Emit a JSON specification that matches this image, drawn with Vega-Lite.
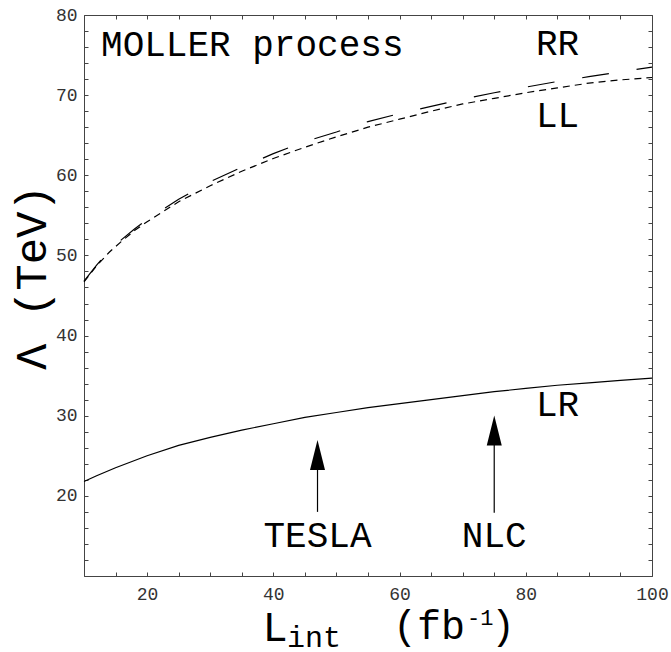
{
  "$schema": "https://vega.github.io/schema/vega-lite/v6.json",
  "width": 568,
  "height": 561,
  "autosize": "none",
  "padding": {"left": 84, "top": 15, "right": 19, "bottom": 76},
  "background": "white",
  "config": {
    "view": {"stroke": "#444", "strokeWidth": 1},
    "axis": {
      "domain": false,
      "labelFont": "Liberation Mono",
      "labelFontSize": 18,
      "labelColor": "#333",
      "titleFont": "Liberation Mono",
      "titleFontWeight": "normal",
      "titleColor": "black"
    }
  },
  "datasets": {
    "curves": [
      {"series": "LR", "L": 10, "Lambda": 21.8},
      {"series": "LR", "L": 12, "Lambda": 22.5},
      {"series": "LR", "L": 15, "Lambda": 23.5},
      {"series": "LR", "L": 20, "Lambda": 25.0},
      {"series": "LR", "L": 25, "Lambda": 26.3},
      {"series": "LR", "L": 30, "Lambda": 27.3},
      {"series": "LR", "L": 35, "Lambda": 28.2},
      {"series": "LR", "L": 40, "Lambda": 29.0},
      {"series": "LR", "L": 45, "Lambda": 29.8},
      {"series": "LR", "L": 50, "Lambda": 30.4},
      {"series": "LR", "L": 55, "Lambda": 31.0},
      {"series": "LR", "L": 60, "Lambda": 31.5},
      {"series": "LR", "L": 65, "Lambda": 32.0},
      {"series": "LR", "L": 70, "Lambda": 32.5},
      {"series": "LR", "L": 75, "Lambda": 33.0},
      {"series": "LR", "L": 80, "Lambda": 33.4},
      {"series": "LR", "L": 85, "Lambda": 33.8},
      {"series": "LR", "L": 90, "Lambda": 34.1},
      {"series": "LR", "L": 95, "Lambda": 34.4},
      {"series": "LR", "L": 100, "Lambda": 34.7},
      {"series": "LL", "L": 10, "Lambda": 46.7},
      {"series": "LL", "L": 12, "Lambda": 48.7},
      {"series": "LL", "L": 14, "Lambda": 50.4},
      {"series": "LL", "L": 16, "Lambda": 51.8},
      {"series": "LL", "L": 18, "Lambda": 53.1},
      {"series": "LL", "L": 20, "Lambda": 54.2},
      {"series": "LL", "L": 25, "Lambda": 56.7},
      {"series": "LL", "L": 30, "Lambda": 58.7},
      {"series": "LL", "L": 35, "Lambda": 60.5},
      {"series": "LL", "L": 40, "Lambda": 62.1},
      {"series": "LL", "L": 45, "Lambda": 63.5},
      {"series": "LL", "L": 50, "Lambda": 64.8},
      {"series": "LL", "L": 55, "Lambda": 66.0},
      {"series": "LL", "L": 60, "Lambda": 67.0},
      {"series": "LL", "L": 65, "Lambda": 68.0},
      {"series": "LL", "L": 70, "Lambda": 68.9},
      {"series": "LL", "L": 75, "Lambda": 69.6},
      {"series": "LL", "L": 80, "Lambda": 70.3},
      {"series": "LL", "L": 85, "Lambda": 70.9},
      {"series": "LL", "L": 90, "Lambda": 71.5},
      {"series": "LL", "L": 95, "Lambda": 71.9},
      {"series": "LL", "L": 100, "Lambda": 72.2},
      {"series": "RR", "L": 10, "Lambda": 46.8},
      {"series": "RR", "L": 12, "Lambda": 48.8},
      {"series": "RR", "L": 14, "Lambda": 50.6},
      {"series": "RR", "L": 16, "Lambda": 52.0},
      {"series": "RR", "L": 18, "Lambda": 53.3},
      {"series": "RR", "L": 20, "Lambda": 54.5},
      {"series": "RR", "L": 25, "Lambda": 57.0},
      {"series": "RR", "L": 30, "Lambda": 59.2},
      {"series": "RR", "L": 35, "Lambda": 61.0},
      {"series": "RR", "L": 40, "Lambda": 62.7},
      {"series": "RR", "L": 45, "Lambda": 64.2},
      {"series": "RR", "L": 50, "Lambda": 65.4},
      {"series": "RR", "L": 55, "Lambda": 66.7},
      {"series": "RR", "L": 60, "Lambda": 67.7},
      {"series": "RR", "L": 65, "Lambda": 68.6},
      {"series": "RR", "L": 70, "Lambda": 69.5},
      {"series": "RR", "L": 75, "Lambda": 70.3},
      {"series": "RR", "L": 80, "Lambda": 71.0},
      {"series": "RR", "L": 85, "Lambda": 71.7},
      {"series": "RR", "L": 90, "Lambda": 72.3},
      {"series": "RR", "L": 95, "Lambda": 72.9},
      {"series": "RR", "L": 100, "Lambda": 73.5}
    ],
    "leftLabels": [
      {"text": "MOLLER process", "L": 12.7, "Lambda": 74.9},
      {"text": "RR", "L": 81.6, "Lambda": 75.0},
      {"text": "LL", "L": 81.6, "Lambda": 66.0},
      {"text": "LR", "L": 81.6, "Lambda": 30.0}
    ],
    "centerLabels": [
      {"text": "TESLA", "L": 47, "Lambda": 13.6},
      {"text": "NLC", "L": 75, "Lambda": 13.6}
    ],
    "arrows": [
      {"name": "TESLA", "L": 47, "Lambda": 18.0, "shaftTop": 23.5, "head": 25.1},
      {"name": "NLC", "L": 75, "Lambda": 17.9, "shaftTop": 26.5, "head": 28.15}
    ],
    "titleSub": [
      {"text": "int", "L": 42.17, "Lambda": 1.14}
    ],
    "titleMain": [
      {"text": "(fb", "L": 58.96, "Lambda": 2.14},
      {"text": ")", "L": 74.49, "Lambda": 2.14}
    ],
    "titleSup": [
      {"text": "-1", "L": 70.69, "Lambda": 3.89}
    ]
  },
  "encoding": {
    "x": {
      "field": "L", "type": "quantitative",
      "scale": {"domain": [10, 100], "nice": false, "zero": false},
      "axis": {
        "orient": "bottom",
        "values": [10,15,20,25,30,35,40,45,50,55,60,65,70,75,80,85,90,95,100],
        "labelExpr": "datum.value % 20 === 0 ? datum.label : ''",
        "ticks": false,
        "tickSize": 0,
        "labelPadding": 9,
        "labelFlush": false,
        "grid": true,
        "gridColor": "#444",
        "gridWidth": 1,
        "gridOpacity": 1,
        "gridDash": [4, 553, 4, 1000],
        "title": "L",
        "titleFontSize": 42,
        "titleAnchor": null,
        "titleAlign": "left",
        "titleBaseline": "alphabetic",
        "titleX": 178,
        "titleY": 64
      }
    },
    "y": {
      "field": "Lambda", "type": "quantitative",
      "scale": {"domain": [10, 80], "nice": false, "zero": false},
      "axis": {
        "orient": "left",
        "values": [10,12,14,16,18,20,22,24,26,28,30,32,34,36,38,40,42,44,46,48,50,52,54,56,58,60,62,64,66,68,70,72,74,76,78,80],
        "labelExpr": "datum.value % 10 === 0 && datum.value > 10 ? datum.label : ''",
        "ticks": false,
        "tickSize": 0,
        "labelPadding": 7,
        "labelFlush": false,
        "grid": true,
        "gridColor": "#444",
        "gridWidth": 1,
        "gridOpacity": 1,
        "gridDash": [4, 560, 4, 1000],
        "title": "Λ (TeV)",
        "titleFontSize": 44,
        "titleAnchor": null,
        "titleAngle": -90,
        "titleAlign": "center",
        "titleBaseline": "alphabetic",
        "titleX": -39,
        "titleY": 262
      }
    }
  },
  "layer": [
    {
      "data": {"name": "curves"},
      "transform": [{"filter": "datum.series === 'LR'"}],
      "mark": {"type": "line", "color": "black", "strokeWidth": 1.2}
    },
    {
      "data": {"name": "curves"},
      "transform": [{"filter": "datum.series === 'LL'"}],
      "mark": {"type": "line", "color": "black", "strokeWidth": 1.2, "strokeDash": [7, 5]}
    },
    {
      "data": {"name": "curves"},
      "transform": [{"filter": "datum.series === 'RR'"}],
      "mark": {"type": "line", "color": "black", "strokeWidth": 1.2, "strokeDash": [27, 28]}
    },
    {
      "data": {"name": "arrows"},
      "mark": {"type": "rule", "color": "black", "strokeWidth": 1.2},
      "encoding": {
        "y2": {"field": "shaftTop"}
      }
    },
    {
      "data": {"name": "arrows"},
      "transform": [{"calculate": "datum.head", "as": "headPos"}],
      "mark": {"type": "point", "shape": "M0,-1L0.5,1L-0.5,1Z", "size": 900, "filled": true, "color": "black", "opacity": 1, "strokeWidth": 0, "yOffset": 0},
      "encoding": {
        "y": {"field": "head", "type": "quantitative"}
      }
    },
    {
      "data": {"name": "leftLabels"},
      "mark": {"type": "text", "align": "left", "baseline": "alphabetic", "font": "Liberation Mono", "fontSize": 36, "color": "black"},
      "encoding": {
        "text": {"field": "text"}
      }
    },
    {
      "data": {"name": "centerLabels"},
      "mark": {"type": "text", "align": "center", "baseline": "alphabetic", "font": "Liberation Mono", "fontSize": 36, "color": "black"},
      "encoding": {
        "text": {"field": "text"}
      }
    },
    {
      "data": {"name": "titleSub"},
      "mark": {"type": "text", "align": "left", "baseline": "alphabetic", "font": "Liberation Mono", "fontSize": 30, "color": "black", "clip": false},
      "encoding": {
        "text": {"field": "text"}
      }
    },
    {
      "data": {"name": "titleMain"},
      "mark": {"type": "text", "align": "left", "baseline": "alphabetic", "font": "Liberation Mono", "fontSize": 40, "color": "black", "clip": false},
      "encoding": {
        "text": {"field": "text"}
      }
    },
    {
      "data": {"name": "titleSup"},
      "mark": {"type": "text", "align": "left", "baseline": "alphabetic", "font": "Liberation Mono", "fontSize": 22, "color": "black", "clip": false},
      "encoding": {
        "text": {"field": "text"}
      }
    }
  ]
}
